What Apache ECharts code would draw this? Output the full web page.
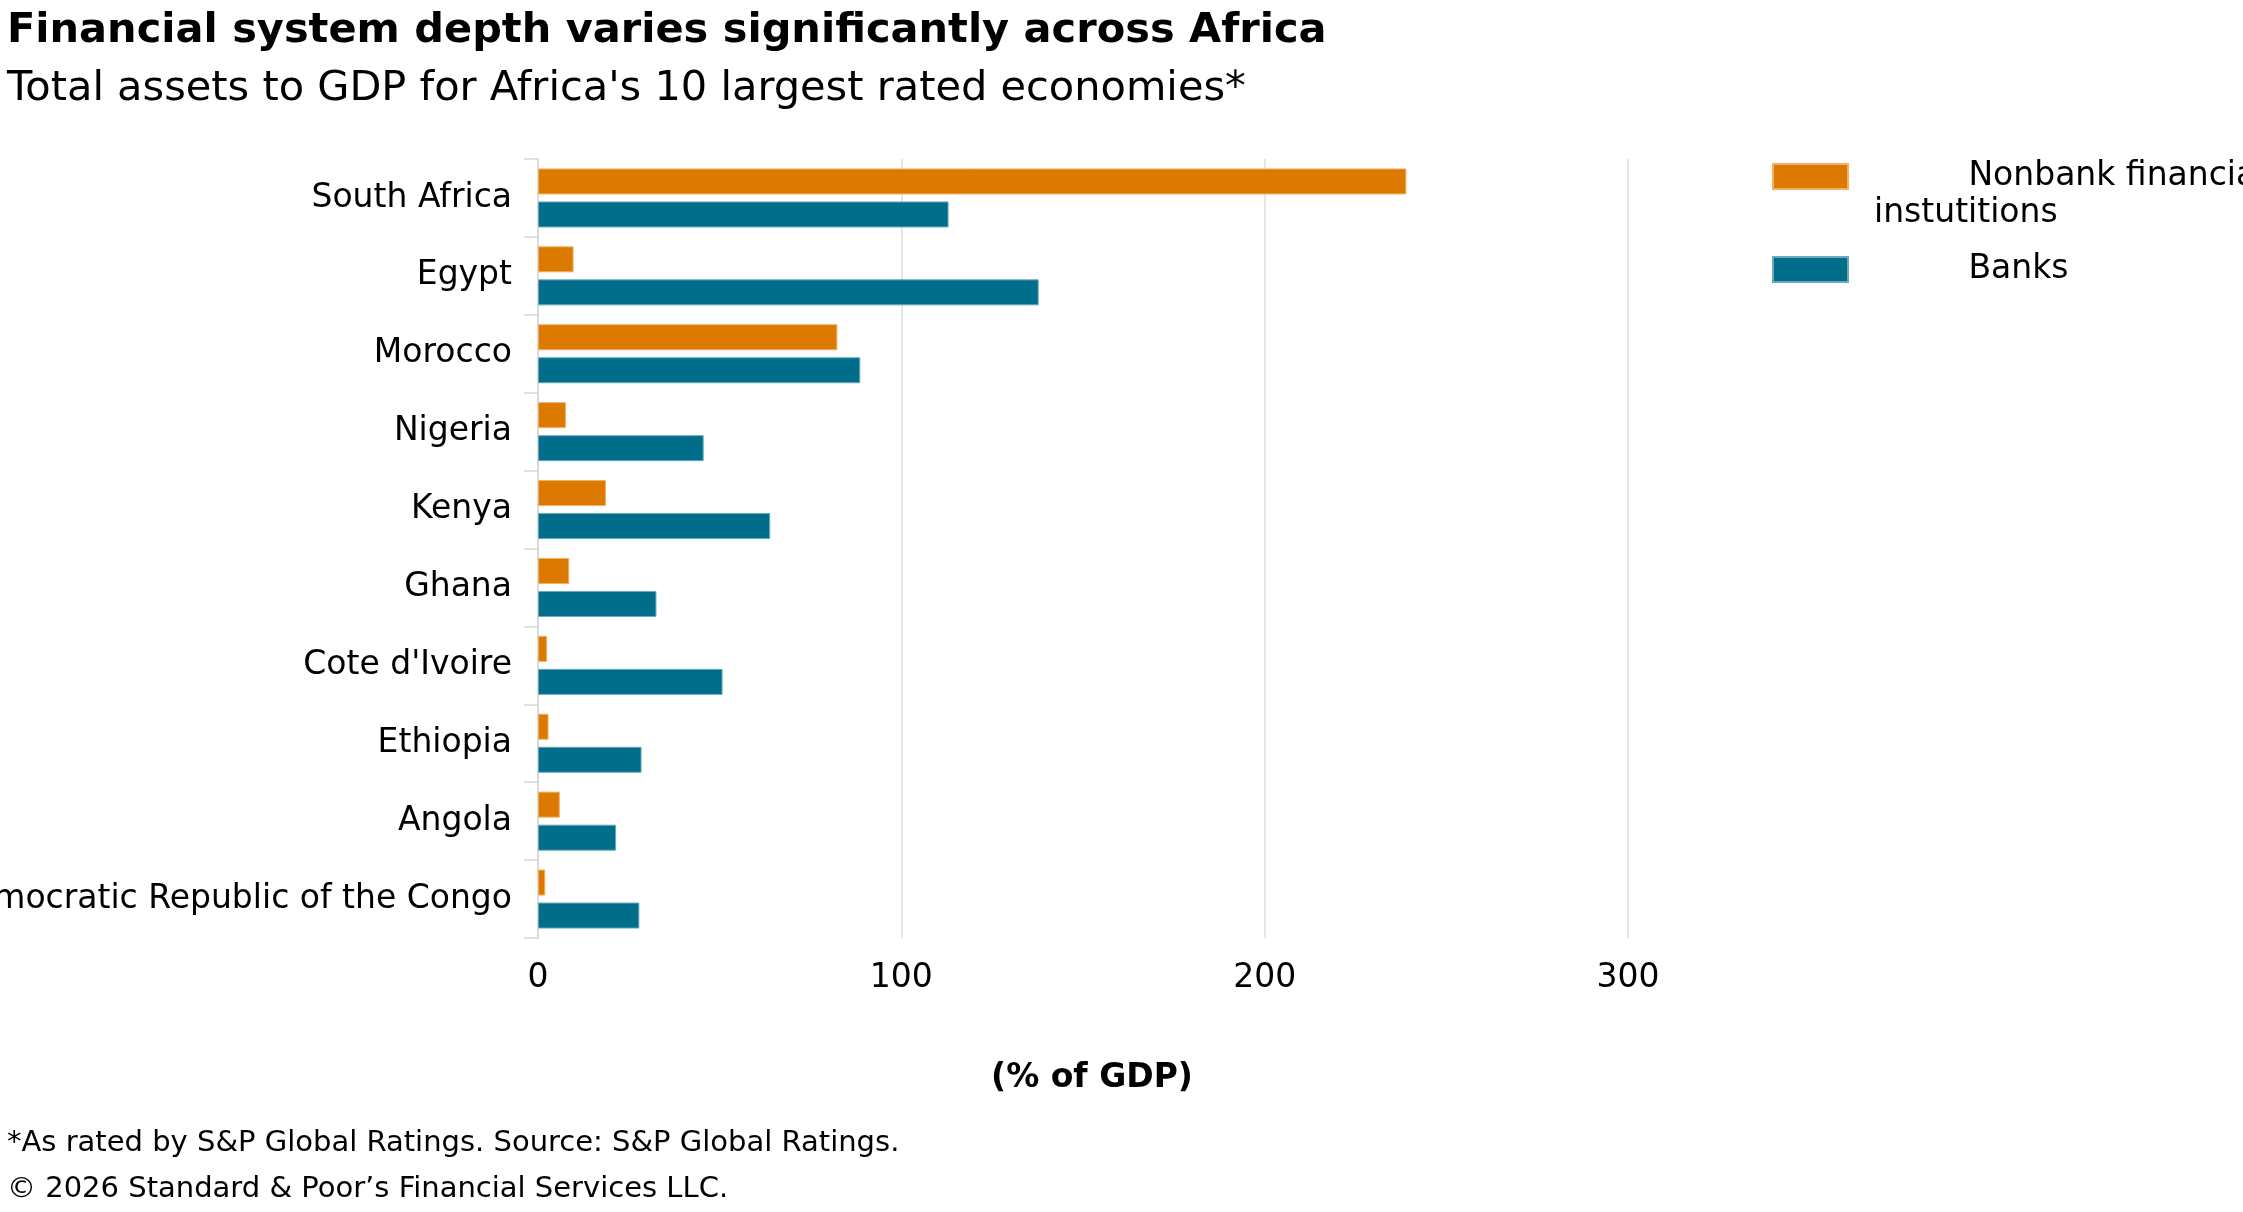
<!DOCTYPE html>
<html>
<head>
<meta charset="utf-8">
<script src="https://cdn.jsdelivr.net/npm/echarts@6/dist/echarts.min.js"></script>
<style>
  html, body { margin: 0; padding: 0; background: #fff; }
  #chart { width: 2243px; height: 1212px; }
</style>
</head>
<body>
<div id="chart"></div>
<script>
// data
var countries = ['South Africa', 'Egypt', 'Morocco', 'Nigeria', 'Kenya', 'Ghana',
  "Cote d'Ivoire", 'Ethiopia', 'Angola', 'Democratic Republic of the Congo'];
var nonbank = [239, 9.8, 82.4, 7.7, 18.7, 8.6, 2.5, 2.9, 6, 2];
var banks = [113, 137.8, 88.7, 45.6, 63.9, 32.6, 50.8, 28.5, 21.5, 27.9];
var xTicks = [0, 100, 200, 300];

var FONT = 'DejaVu Sans';
var pad = '           ';

var myChart = echarts.init(document.getElementById('chart'));

var option = {
  textStyle: { fontFamily: FONT, color: '#000' },
  title: [{
    text: 'Financial system depth varies significantly across Africa',
    left: 2,
    top: 5,
    textStyle: { fontFamily: FONT, fontSize: 41.5, fontWeight: 'bold', color: '#000' }
  }, {
    text: "Total assets to GDP for Africa's 10 largest rated economies*",
    left: 2,
    top: 63,
    textStyle: { fontFamily: FONT, fontSize: 41.5, fontWeight: 'normal', color: '#000' }
  }, {
    text: '*As rated by S&P Global Ratings. Source: S&P Global Ratings.',
    left: 2,
    top: 1124,
    textStyle: { fontFamily: FONT, fontSize: 29, fontWeight: 'normal', color: '#000' }
  }, {
    text: '\u00a9 2026 Standard & Poor\u2019s Financial Services LLC.',
    left: 2,
    top: 1170,
    textStyle: { fontFamily: FONT, fontSize: 29, fontWeight: 'normal', color: '#000' }
  }],
  legend: [{
    data: ['Nonbank financial instutitions'],
    left: 1772,
    top: 160,
    padding: 0,
    icon: 'rect',
    itemWidth: 75,
    itemHeight: 25,
    formatter: function () { return pad + 'Nonbank financial'; },
    textStyle: { fontFamily: FONT, fontSize: 33, color: '#000', lineHeight: 25 }
  }, {
    data: ['Banks'],
    left: 1772,
    top: 253,
    padding: 0,
    icon: 'rect',
    itemWidth: 75,
    itemHeight: 25,
    formatter: function () { return pad + 'Banks'; },
    textStyle: { fontFamily: FONT, fontSize: 33, color: '#000', lineHeight: 25 }
  }],
  graphic: [{
    type: 'text',
    left: 1874,
    top: 197,
    style: { text: 'instutitions', font: '33px "DejaVu Sans"', fill: '#000' }
  }],
  grid: {
    left: 538,
    top: 159,
    width: 1090,
    height: 779,
    containLabel: false,
    outerBoundsMode: 'none'
  },
  xAxis: {
    type: 'value',
    min: 0,
    max: 300,
    interval: 100,
    name: '(% of GDP)',
    nameLocation: 'middle',
    nameGap: 124,
    nameTextStyle: {
      fontFamily: FONT, fontSize: 33, fontWeight: 'bold', color: '#000',
      padding: [0, 0, 0, 18]
    },
    axisLine: { show: false },
    axisTick: { show: false },
    axisLabel: {
      fontFamily: FONT, fontSize: 33, color: '#000', margin: 24,
      formatter: function (v) { return xTicks.indexOf(v) >= 0 ? String(v) : ''; }
    },
    splitLine: { show: true, lineStyle: { color: '#dedede', width: 1.5 } }
  },
  yAxis: {
    type: 'category',
    data: countries,
    inverse: true,
    axisLine: { show: true, lineStyle: { color: '#d6d6d6', width: 1.5 } },
    axisTick: { show: true, length: 14, lineStyle: { color: '#d6d6d6', width: 1.5 } },
    axisLabel: { fontFamily: FONT, fontSize: 33, color: '#000', margin: 26 },
    splitLine: { show: false }
  },
  series: [{
    name: 'Nonbank financial instutitions',
    type: 'bar',
    data: nonbank,
    barWidth: 26,
    barGap: '27%',
    itemStyle: { color: '#dc7900', borderColor: '#f2b066', borderWidth: 1 }
  }, {
    name: 'Banks',
    type: 'bar',
    data: banks,
    barWidth: 26,
    barGap: '27%',
    itemStyle: { color: '#006e8a', borderColor: '#6aa9bb', borderWidth: 1 }
  }]
};

myChart.setOption(option);
</script>
</body>
</html>
